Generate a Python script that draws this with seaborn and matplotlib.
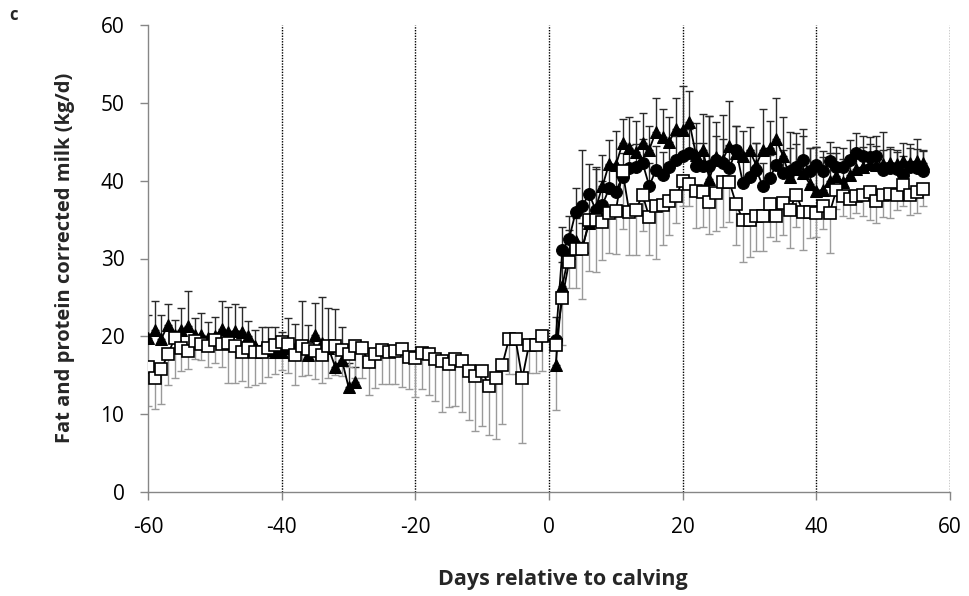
import matplotlib
matplotlib.use("Agg")
import matplotlib.pyplot as plt
import seaborn as sns
import numpy as np
import pandas as pd

# ---------------- data ----------------
days_pre = list(range(-60, 0))          # -60 .. -1
days_post = list(range(1, 57))          # 1 .. 56
days_tri_pre = list(range(-60, -28))    # -60 .. -29

sq_pre = [16.1, 14.7, 15.8, 17.7, 19.8, 18.5, 18.1, 19.4, 19.0, 18.7,
          19.5, 19.0, 19.2, 18.8, 18.0, 18.5, 18.0, 18.0, 18.5, 18.9,
          19.3, 19.0, 17.6, 18.7, 18.4, 18.1, 17.6, 18.8, 18.8, 18.3,
          17.7, 18.8, 18.5, 16.7, 17.7, 18.3, 18.0, 18.1, 18.4, 17.3,
          17.2, 17.9, 17.7, 17.1, 16.8, 16.4, 17.1, 16.8, 15.6, 14.9,
          15.6, 13.6, 14.7, 16.3, 19.6, 19.6, 14.6, 18.9, 18.9, 20.0]
sq_pre_err = [5.0, 4.1, 4.5, 3.9, 5.1, 2.9, 2.3, 2.3, 2.0, 2.6,
              2.9, 2.9, 5.2, 4.8, 3.8, 5.0, 4.2, 4.0, 3.7, 3.7,
              3.6, 3.7, 3.8, 3.8, 3.4, 3.6, 3.6, 4.1, 3.8, 3.4,
              1.6, 4.1, 3.8, 4.2, 4.4, 4.4, 4.1, 4.2, 4.9, 4.1,
              5.0, 4.7, 5.2, 5.4, 6.5, 5.5, 6.0, 6.5, 6.4, 7.0,
              7.1, 6.3, 7.9, 7.6, 4.4, 4.4, 8.3, 3.6, 3.6, 4.5]
sq_post = [18.9, 24.9, 29.6, 31.2, 31.2, 35.0, 35.0, 34.7, 35.8, 36.1,
           41.3, 36.0, 36.2, 38.2, 35.3, 36.8, 36.9, 37.4, 38.0, 40.0,
           39.6, 38.7, 38.6, 37.2, 38.4, 39.8, 39.8, 37.0, 35.0, 35.0,
           35.5, 35.5, 37.0, 35.4, 37.1, 36.2, 38.2, 36.0, 36.0, 35.8,
           36.8, 35.9, 38.8, 38.0, 37.7, 38.0, 38.2, 38.5, 37.4, 38.2,
           38.3, 38.2, 39.5, 38.2, 38.6, 38.9]
sq_post_err = [8.4, 6.0, 3.4, 5.0, 6.4, 6.6, 6.7, 4.9, 5.1, 5.5,
               7.5, 5.5, 5.7, 4.7, 4.9, 6.9, 5.2, 4.4, 3.5, 3.3,
               2.9, 4.8, 4.5, 4.0, 4.9, 5.7, 5.1, 5.3, 5.4, 4.8,
               4.5, 4.6, 4.3, 3.2, 4.1, 4.9, 4.2, 4.9, 3.4, 3.1,
               3.0, 5.2, 2.5, 2.5, 2.5, 2.1, 2.7, 3.5, 2.9, 2.9,
               3.1, 2.0, 2.8, 2.6, 2.7, 2.2]

tri_pre = [19.8, 20.8, 19.7, 21.5, 20.2, 20.8, 21.3, 20.2, 20.2, 19.8,
           20.0, 20.9, 20.5, 20.7, 20.6, 20.0, 18.7, 18.5, 18.3, 18.0,
           18.0, 18.5, 18.5, 18.5, 17.6, 20.2, 19.2, 18.5, 16.1, 17.0,
           13.5, 14.1]
tri_pre_err = [3.0, 3.8, 3.1, 2.7, 1.9, 2.8, 4.5, 2.2, 2.8, 2.0,
               2.5, 3.6, 3.3, 3.5, 3.2, 2.0, 2.1, 2.7, 2.9, 3.2,
               2.6, 3.9, 3.1, 6.0, 3.9, 4.1, 5.8, 5.2, 7.4, 4.2,
               3.1, 2.0]
tri_post = [16.3, 26.5, 30.7, 32.2, 31.5, 34.5, 36.5, 39.3, 42.2, 42.0,
            44.8, 44.2, 43.7, 44.9, 44.0, 46.3, 45.6, 45.0, 46.7, 46.5,
            47.5, 43.3, 44.0, 40.2, 43.0, 42.7, 44.5, 43.5, 43.2, 43.9,
            42.0, 44.0, 44.2, 45.3, 43.2, 40.5, 41.5, 41.0, 39.6, 38.7,
            38.8, 40.0, 40.6, 39.8, 40.7, 41.5, 41.8, 42.2, 42.0, 42.2,
            42.3, 42.2, 42.5, 42.3, 42.5, 42.3]
tri_post_err = [3.5, 3.0, 3.0, 3.0, 3.0, 4.0, 5.0, 4.0, 3.0, 4.4,
                3.1, 4.0, 4.0, 3.8, 3.0, 4.3, 3.6, 3.2, 3.9, 5.6,
                4.0, 4.1, 4.6, 8.1, 4.6, 5.8, 5.7, 3.5, 3.2, 3.0,
                2.9, 5.2, 3.5, 5.3, 5.0, 5.7, 4.6, 5.7, 4.6, 5.6,
                4.2, 3.5, 3.0, 3.0, 2.5, 2.5, 2.5, 2.5, 2.5, 4.0,
                2.0, 1.5, 2.4, 2.4, 2.8, 1.7]

cir_post = [19.5, 31.1, 32.5, 36.0, 36.8, 38.3, 36.2, 36.9, 39.0, 38.6,
            40.5, 41.6, 41.7, 42.3, 39.3, 41.4, 40.7, 41.7, 42.7, 43.2,
            43.6, 41.9, 41.9, 41.9, 42.7, 42.3, 41.6, 44.0, 39.7, 40.5,
            41.4, 39.3, 40.3, 42.0, 41.0, 41.2, 41.7, 42.7, 41.2, 42.0,
            41.3, 42.5, 41.8, 41.7, 42.7, 43.6, 43.2, 43.1, 43.2, 41.4,
            41.6, 41.5, 40.7, 41.7, 41.6, 41.3]
cir_post_err = [3.0, 3.0, 3.0, 3.0, 7.1, 3.9, 5.5, 3.0, 3.0, 3.0,
                3.0, 3.0, 3.0, 3.0, 3.0, 3.0, 3.0, 3.0, 3.0, 3.0,
                3.0, 3.0, 3.0, 6.4, 3.0, 3.0, 3.0, 3.0, 3.0, 3.5,
                3.5, 3.0, 3.0, 3.0, 3.0, 3.0, 3.0, 3.0, 3.0, 2.3,
                2.5, 2.5, 2.5, 2.5, 2.5, 2.5, 2.5, 2.5, 2.5, 2.5,
                2.5, 2.5, 2.5, 2.5, 2.5, 2.5]

x_ticks = [-60, -40, -20, 0, 20, 40, 60]
y_ticks = [0, 10, 20, 30, 40, 50, 60]
x_label = "Days relative to calving"
y_label = "Fat and protein corrected milk (kg/d)"

# ---------------- tables ----------------
sq = pd.DataFrame({"day": days_pre + days_post,
                   "v": sq_pre + sq_post,
                   "e": sq_pre_err + sq_post_err})
tri_a = pd.DataFrame({"day": days_tri_pre, "v": tri_pre, "e": tri_pre_err})
tri_b = pd.DataFrame({"day": days_post, "v": tri_post, "e": tri_post_err})
cir = pd.DataFrame({"day": days_post, "v": cir_post, "e": cir_post_err})

# ---------------- figure ----------------
sns.set_theme(style="white")
plt.rcParams["font.family"] = ["Open Sans", "DejaVu Sans"]

fig = plt.figure(figsize=(9.69, 5.96), dpi=100)
ax = fig.add_axes([148 / 969, 1 - 492 / 596, (950 - 148) / 969, (492 - 25) / 596])

for xv in [-40, -20, 0, 20, 40, 60]:
    ax.axvline(xv, color="black", linestyle=(0, (1, 1)), lw=1.0, zorder=0.5)

grey = "#9a9a9a"
dark = "#2a2a2a"

# error bars (plus side for treatment groups, minus side for control)
for d, c in [(tri_a, dark), (tri_b, dark), (cir, dark)]:
    ax.errorbar(d["day"], d["v"], yerr=[np.zeros(len(d)), d["e"]], fmt="none",
                ecolor=c, elinewidth=1.0, capsize=3, capthick=1.0, zorder=1)
ax.errorbar(sq["day"], sq["v"], yerr=[sq["e"], np.zeros(len(sq))], fmt="none",
            ecolor=grey, elinewidth=1.0, capsize=3, capthick=1.0, zorder=1)

common = dict(x="day", y="v", ax=ax, color="black", lw=1.3,
              estimator=None, errorbar=None, legend=False)
sns.lineplot(data=tri_a, marker="^", markersize=9, markerfacecolor="black",
             markeredgecolor="black", zorder=3, **common)
sns.lineplot(data=tri_b, marker="^", markersize=9, markerfacecolor="black",
             markeredgecolor="black", zorder=3, **common)
sns.lineplot(data=cir, marker="o", markersize=8.5, markerfacecolor="black",
             markeredgecolor="black", zorder=4, **common)
sns.lineplot(data=sq, marker="s", markersize=8.5, markerfacecolor="white",
             markeredgecolor="black", markeredgewidth=1.2, zorder=5, **common)

ax.set_xlim(-60, 60)
ax.set_ylim(0, 60)
ax.set_xticks(x_ticks)
ax.set_yticks(y_ticks)
ax.set_xticklabels([str(t) for t in x_ticks])
ax.set_yticklabels([str(t) for t in y_ticks])
ax.set_xlabel("")
ax.set_ylabel("")

for s in ["top", "right"]:
    ax.spines[s].set_visible(False)
for s in ["left", "bottom"]:
    ax.spines[s].set_color("#868686")
    ax.spines[s].set_linewidth(1.0)

ax.tick_params(axis="both", direction="out", length=6, width=1.0,
               color="#868686", labelsize=15, labelcolor="black")
ax.tick_params(axis="y", pad=11, left=True)
ax.tick_params(axis="x", pad=12, bottom=True)

fig.text(65 / 969, 1 - 258 / 596, y_label, rotation=90, ha="center", va="center",
         fontsize=14.5, fontweight="bold")
fig.text(563 / 969, 1 - 580 / 596, x_label, ha="center", va="center",
         fontsize=15.5, fontweight="bold")
fig.text(14 / 969, 1 - 15 / 596, "c", ha="center", va="center",
         fontsize=12, fontweight="bold")

fig.savefig("out.png", dpi=100)
